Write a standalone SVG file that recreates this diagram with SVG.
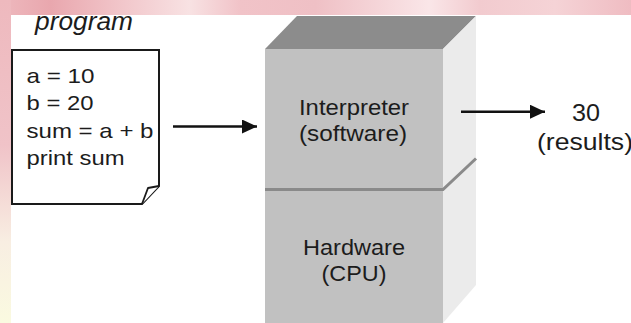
<svg xmlns="http://www.w3.org/2000/svg" width="631" height="323" viewBox="0 0 631 323">
  <defs>
    <linearGradient id="bandTop" x1="0" y1="0" x2="1" y2="0">
      <stop offset="0" stop-color="#eeb9be"/>
      <stop offset="0.08" stop-color="#e9a7ae"/>
      <stop offset="0.2" stop-color="#f2c8cc"/>
      <stop offset="0.3" stop-color="#f8e2e3"/>
      <stop offset="0.38" stop-color="#f1c3c8"/>
      <stop offset="0.5" stop-color="#efc0c5"/>
      <stop offset="0.68" stop-color="#fae6e8"/>
      <stop offset="0.76" stop-color="#f2cbcf"/>
      <stop offset="0.88" stop-color="#f5d3d6"/>
      <stop offset="1" stop-color="#efbcc2"/>
    </linearGradient>
    <linearGradient id="bandLeft" x1="0" y1="0" x2="0" y2="1">
      <stop offset="0" stop-color="#eeb9be"/>
      <stop offset="0.45" stop-color="#f0c3c8"/>
      <stop offset="0.75" stop-color="#f8eee2"/>
      <stop offset="1" stop-color="#fafae0"/>
    </linearGradient>
    <marker id="arrow" markerUnits="userSpaceOnUse" markerWidth="16" markerHeight="14" refX="15" refY="7" orient="auto">
      <path d="M0,0 L15,7 L0,14 Z" fill="#111"/>
    </marker>
  </defs>
  <style>
    .t { font-family: "Liberation Sans", Arial, sans-serif; fill: #1c1c1c; }
    .code { font-size: 21px; }
    .box { font-size: 22px; text-anchor: middle; }
    .res { font-size: 24px; }
    .front { fill: #c1c1c1; }
    .side { fill: #ebebeb; }
    .topf { fill: #8c8c8c; }
    .conn { stroke: #111; stroke-width: 2.5; fill: none; }
  </style>

  <rect x="0" y="0" width="631" height="323" fill="#ffffff"/>

  <g id="program">
    <text class="t" x="35" y="29.5" font-size="26" font-style="italic" textLength="98" lengthAdjust="spacingAndGlyphs">program</text>
    <path d="M12,50 H159 V186 L142,204 H12 Z" fill="#ffffff" stroke="#1a1a1a" stroke-width="2"/>
    <path d="M159,186 L148,188 L142,204" fill="#ffffff" stroke="#1a1a1a" stroke-width="1.8" stroke-linejoin="round"/>
    <text class="t code" x="26.5" y="83" textLength="68" lengthAdjust="spacingAndGlyphs">a = 10</text>
    <text class="t code" x="26.5" y="110" textLength="67" lengthAdjust="spacingAndGlyphs">b = 20</text>
    <text class="t code" x="26.5" y="138" textLength="127" lengthAdjust="spacingAndGlyphs">sum = a + b</text>
    <text class="t code" x="26.5" y="165" textLength="98" lengthAdjust="spacingAndGlyphs">print sum</text>
  </g>

  <g id="interpreter">
    <polygon class="topf" points="265,49 297,16 476,16 443,49"/>
    <rect class="front" x="265" y="49" width="178" height="140"/>
    <polygon class="side" points="443,49 476,16 476,158 443,189"/>
    <text class="t box" x="354" y="115" textLength="110" lengthAdjust="spacingAndGlyphs">Interpreter</text>
    <text class="t box" x="353" y="141" textLength="108" lengthAdjust="spacingAndGlyphs">(software)</text>
  </g>

  <g id="hardware">
    <rect class="front" x="265" y="189" width="178" height="134"/>
    <polygon class="side" points="443,189 476,158 476,285 443,323"/>
    <path d="M265,189.5 H443 L476,158.5" fill="none" stroke="#8a8a8a" stroke-width="3"/>
    <text class="t box" x="354" y="255" textLength="102" lengthAdjust="spacingAndGlyphs">Hardware</text>
    <text class="t box" x="354" y="281" textLength="65" lengthAdjust="spacingAndGlyphs">(CPU)</text>
  </g>

  <g id="result">
    <text class="t res" x="572" y="120.5" textLength="28" lengthAdjust="spacingAndGlyphs">30</text>
    <text class="t res" x="537" y="150" textLength="96" lengthAdjust="spacingAndGlyphs">(results)</text>
  </g>

  <g id="connectors">
    <line class="conn" x1="173" y1="126.5" x2="257" y2="126.5" marker-end="url(#arrow)"/>
    <line class="conn" x1="461" y1="111.7" x2="545" y2="111.7" marker-end="url(#arrow)"/>
  </g>

  <rect x="0" y="0" width="631" height="15" fill="url(#bandTop)"/>
  <rect x="0" y="0" width="11" height="323" fill="url(#bandLeft)"/>
</svg>
